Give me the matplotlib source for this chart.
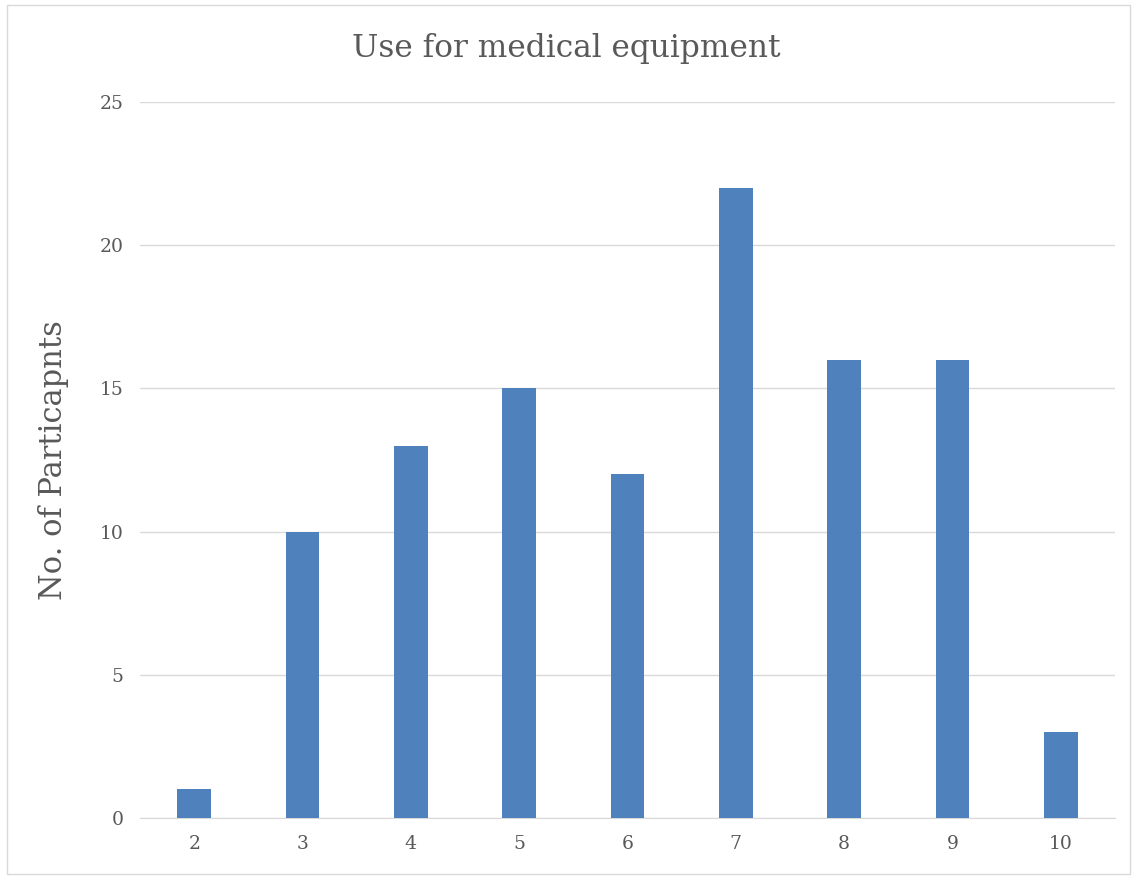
import matplotlib.pyplot as plt
from matplotlib.patches import Rectangle

categories = ["2", "3", "4", "5", "6", "7", "8", "9", "10"]
participants = [1, 10, 13, 15, 12, 22, 16, 16, 3]
y_ticks = [0, 5, 10, 15, 20, 25]

bar_color = "#4F81BD"
text_color = "#595959"
grid_color = "#D9D9D9"
font = "DejaVu Serif"

fig = plt.figure(figsize=(11.32, 8.76), dpi=100)
ax = fig.add_axes([0.1237, 0.0662, 0.8613, 0.8174])

x = range(len(categories))
ax.bar(x, participants, width=0.31, color=bar_color, zorder=3)

ax.set_xlim(-0.5, len(categories) - 0.5)
ax.set_ylim(0, 25)
ax.set_yticks(y_ticks)
ax.set_xticks(list(x))
ax.set_xticklabels(categories)
ax.grid(axis="y", color=grid_color, linewidth=1, zorder=0)
for side in ["top", "right", "left"]:
    ax.spines[side].set_visible(False)
ax.spines["bottom"].set_color(grid_color)
ax.tick_params(length=0, colors=text_color, labelsize=13.5, pad=12)
for lbl in ax.get_xticklabels() + ax.get_yticklabels():
    lbl.set_family(font)

ax.set_ylabel("No. of Particapnts", fontsize=22, color=text_color, family=font, labelpad=22)
fig.text(0.5, 0.945, "Use for medical equipment", ha="center", va="center",
         fontsize=22.5, color=text_color, family=font)

# outer chart border
fig.patches.append(Rectangle((0.006, 0.002), 0.992, 0.992, transform=fig.transFigure,
                             fill=False, edgecolor=grid_color, linewidth=1))

fig.savefig("out.png", dpi=100)
